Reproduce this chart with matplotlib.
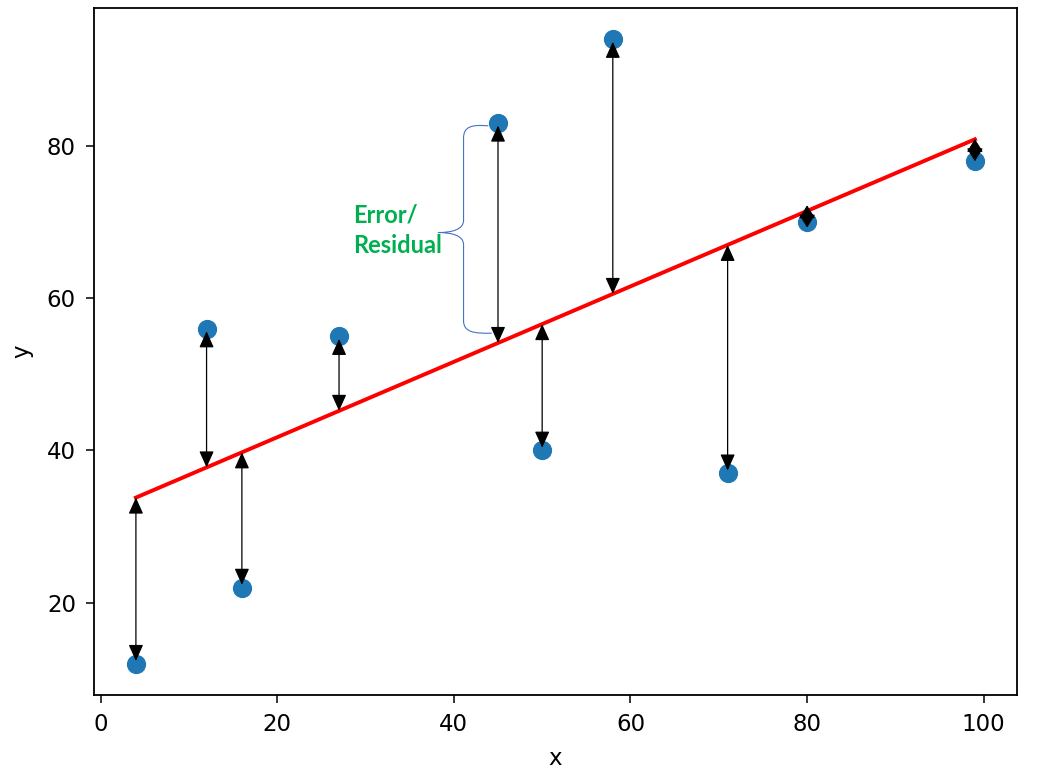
import numpy as np
import matplotlib
matplotlib.use("Agg")
import matplotlib.pyplot as plt
from matplotlib.path import Path
from matplotlib.patches import PathPatch

# data
x = np.array([4, 12, 16, 27, 45, 50, 58, 71, 80, 99])
y = np.array([12, 56, 22, 55, 83, 40, 94, 37, 70, 78])

# least squares fit line
b, a = np.polyfit(x, y, 1)
yhat = a + b * x

fig = plt.figure(figsize=(10.44, 7.8), dpi=100)
ax = fig.add_axes([0.090, 0.109, 0.884, 0.881])

ax.scatter(x, y, s=165, color="#1f77b4", zorder=3)
ax.plot(x[[0, -1]], yhat[[0, -1]], color="red", lw=2.8, zorder=2)

for xi, yi, fi in zip(x, y, yhat):
    if abs(fi - yi) > 3:
        ax.annotate("", xy=(xi, fi), xytext=(xi, yi),
                    arrowprops=dict(arrowstyle="<|-|>,head_length=1.0,head_width=0.45",
                                    color="black", lw=0.9, shrinkA=2, shrinkB=0),
                    zorder=4)
    else:
        # residual too short for two heads: draw them back to back
        mid = (yi + fi) / 2
        for dy in (8, -8):
            ax.annotate("", xy=(xi, mid), xytext=(0, dy), textcoords="offset points",
                        arrowprops=dict(arrowstyle="<|-,head_length=0.8,head_width=0.5",
                                        color="black", lw=0.9, shrinkA=0, shrinkB=0),
                        zorder=4)

# curly brace marking one residual
verts = [(43.9, 82.6), (42.0, 82.8), (41.1, 82.5), (41.1, 81.0),
         (41.1, 70.2),
         (41.1, 69.0), (39.8, 68.6), (38.2, 68.6),
         (39.8, 68.6), (41.1, 68.2), (41.1, 67.0),
         (41.1, 57.0),
         (41.1, 55.6), (42.2, 55.3), (44.3, 55.4)]
codes = [Path.MOVETO, Path.CURVE4, Path.CURVE4, Path.CURVE4,
         Path.LINETO,
         Path.CURVE4, Path.CURVE4, Path.CURVE4,
         Path.CURVE4, Path.CURVE4, Path.CURVE4,
         Path.LINETO,
         Path.CURVE4, Path.CURVE4, Path.CURVE4]
ax.add_patch(PathPatch(Path(verts, codes), fill=False, ec="#4472C4", lw=0.8, zorder=1))
ax.text(28.6, 68.9, "Error/\nResidual", color="#00B050", fontsize=17,
        fontweight="bold", family="Lato", ha="left", va="center", linespacing=1.4)

ax.set_xlabel("x", fontsize=16.5, labelpad=8)
ax.set_ylabel("y", fontsize=16.5, labelpad=10)
ax.tick_params(labelsize=16.5, length=6, width=1.1, pad=7)
for s in ax.spines.values():
    s.set_linewidth(1.3)
ax.set_xticks([0, 20, 40, 60, 80, 100])
ax.set_yticks([20, 40, 60, 80])

fig.savefig("out.png", dpi=100)
